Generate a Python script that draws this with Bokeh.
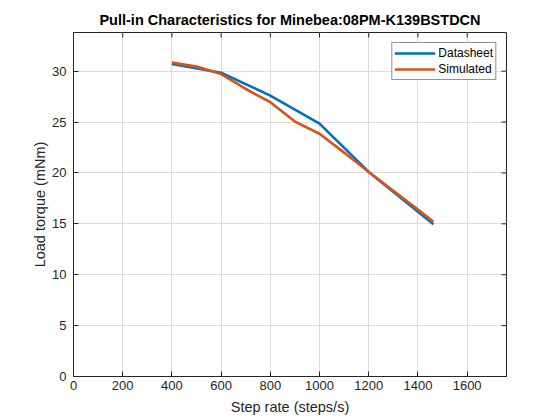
from bokeh.plotting import figure
from bokeh.models import Range1d, FixedTicker, Legend, LegendItem
from bokeh.embed import file_html
from bokeh.resources import INLINE

# Data
datasheet_rate = [400, 600, 800, 1000, 1200, 1463]
datasheet_torque = [30.7, 29.85, 27.6, 24.85, 20.1, 14.95]

simulated_rate = [400, 500, 600, 700, 800, 900, 1000, 1100, 1200, 1300, 1400, 1463]
simulated_torque = [30.85, 30.45, 29.72, 28.25, 26.95, 25.05, 23.85, 22.0, 20.1, 18.25, 16.4, 15.2]

x_ticks = [0, 200, 400, 600, 800, 1000, 1200, 1400, 1600]
y_ticks = [0, 5, 10, 15, 20, 25, 30]

FONT = "Liberation Sans"
DARK = "#262626"
BLUE = "#0072BD"
ORANGE = "#D95319"

X_MAX, Y_MAX = 1760, 33.8
W, H = 560, 420
BL, BR, BT, BB = 73, 54, 32, 44
TICK = 5  # px

p = figure(width=W, height=H, output_backend="svg", toolbar_location=None,
           x_range=Range1d(0, X_MAX), y_range=Range1d(0, Y_MAX),
           min_border_left=BL, min_border_right=BR, min_border_top=BT, min_border_bottom=BB,
           x_axis_label="Step rate (steps/s)", y_axis_label="Load torque (mNm)")

p.background_fill_color = "white"
p.border_fill_color = "white"
p.outline_line_color = DARK
p.outline_line_width = 1

p.title.text = "Pull-in Characteristics for Minebea:08PM-K139BSTDCN"
p.title.align = "center"
p.title.text_font = FONT
p.title.text_font_size = "14.5px"
p.title.text_font_style = "bold"
p.title.text_color = "black"
p.title.standoff = 10

for ax, ticks in ((p.xaxis[0], x_ticks), (p.yaxis[0], y_ticks)):
    ax.ticker = FixedTicker(ticks=ticks)
    ax.major_tick_in = TICK
    ax.major_tick_out = 0
    ax.minor_tick_line_color = None
    ax.axis_line_color = DARK
    ax.major_tick_line_color = DARK
    ax.major_label_text_font = FONT
    ax.major_label_text_font_size = "13px"
    ax.major_label_text_color = DARK
    ax.axis_label_text_font = FONT
    ax.axis_label_text_font_size = "14.5px"
    ax.axis_label_text_font_style = "normal"
    ax.axis_label_text_color = DARK

p.xaxis[0].major_label_standoff = 4
p.xaxis[0].axis_label_standoff = 6
p.yaxis[0].major_label_standoff = 7
p.yaxis[0].axis_label_standoff = 1

p.xgrid.ticker = FixedTicker(ticks=x_ticks)
p.ygrid.ticker = FixedTicker(ticks=y_ticks)
p.xgrid.grid_line_color = "#dcdcdc"
p.ygrid.grid_line_color = "#dcdcdc"

# inward ticks on the top and right edges (box on)
frame_w = W - BL - BR
frame_h = H - BT - BB
dx = TICK * X_MAX / frame_w
dy = TICK * Y_MAX / frame_h
p.segment(x0=x_ticks, y0=[Y_MAX] * len(x_ticks), x1=x_ticks, y1=[Y_MAX - dy] * len(x_ticks),
          line_color=DARK, line_width=1)
p.segment(x0=[X_MAX] * len(y_ticks), y0=y_ticks, x1=[X_MAX - dx] * len(y_ticks), y1=y_ticks,
          line_color=DARK, line_width=1)

r1 = p.line(datasheet_rate, datasheet_torque, line_color=BLUE, line_width=2.6)
r2 = p.line(simulated_rate, simulated_torque, line_color=ORANGE, line_width=2.6)

legend = Legend(items=[LegendItem(label="Datasheet", renderers=[r1]),
                       LegendItem(label="Simulated", renderers=[r2])],
                location="top_right")
legend.margin = 10
legend.padding = 2
legend.spacing = 0
legend.glyph_width = 41
legend.glyph_height = 16
legend.label_height = 16
legend.label_standoff = 3
legend.label_text_font = FONT
legend.label_text_font_size = "12px"
legend.label_text_color = "black"
legend.border_line_color = DARK
legend.border_line_width = 1
legend.background_fill_color = "white"
legend.background_fill_alpha = 1
p.add_layout(legend)

open("out.html", "w").write(file_html(p, INLINE))
